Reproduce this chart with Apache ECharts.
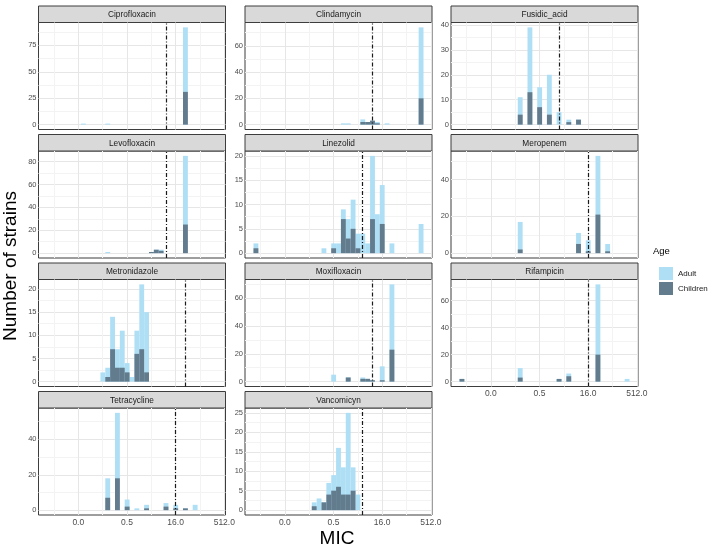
<!DOCTYPE html>
<html>
<head>
<meta charset="utf-8">
<script src="https://cdn.jsdelivr.net/npm/echarts@6/dist/echarts.min.js"></script>
<style>
html, body { margin: 0; padding: 0; background: #fff; }
#chart { width: 708px; height: 549px; }
</style>
</head>
<body>
<div id="chart"></div>
<script>
// facet order (row by row)
var drugs = ['Ciprofloxacin', 'Clindamycin', 'Fusidic_acid', 'Levofloxacin', 'Linezolid', 'Meropenem',
    'Metronidazole', 'Moxifloxacin', 'Rifampicin', 'Tetracycline', 'Vancomicyn'];
var breakpoints = [8, 8, 2, 8, 4, 16, 32, 8, 16, 16, 4];   // MIC of the dot-dash line
var yStep = [25, 20, 10, 20, 5, 20, 5, 20, 20, 20, 5];       // y tick spacing per facet

// histogram of log2(MIC), 35 bins from 0.002 to 256; bin index -> counts
var ciprofloxacinBins = [7, 12, 28];
var ciprofloxacinAdult = [1, 1, 92];
var ciprofloxacinChildren = [0, 0, 31];

var clindamycinBins = [18, 19, 22, 23, 24, 25, 27, 34];
var clindamycinAdult = [1, 1, 4, 2, 3, 2, 1, 74];
var clindamycinChildren = [0, 0, 2, 2, 3, 1, 0, 20];

var fusidicBins = [12, 14, 16, 18, 20, 22, 24];
var fusidicAdult = [11, 39, 15, 20, 5, 2, 2];
var fusidicChildren = [4, 13, 7, 4, 0, 1, 2];

var levofloxacinBins = [12, 21, 22, 23, 28];
var levofloxacinAdult = [1, 1, 3, 3, 85];
var levofloxacinChildren = [0, 1, 3, 2, 25];

var linezolidBins = [0, 14, 16, 17, 18, 19, 20, 21, 22, 23, 24, 25, 26, 28, 34];
var linezolidAdult = [2, 1, 2, 2, 9, 7, 11, 4, 4, 2, 20, 8, 14, 2, 6];
var linezolidChildren = [1, 0, 1, 0, 7, 3, 5, 1, 0, 0, 7, 0, 6, 0, 0];

var meropenemBins = [12, 24, 26, 28, 30];
var meropenemAdult = [17, 11, 7, 53, 5];
var meropenemChildren = [2, 5, 1, 21, 1];

var metronidazoleBins = [11, 12, 13, 14, 15, 16, 17, 18, 19, 20];
var metronidazoleAdult = [2, 3, 14, 7, 11, 4, 1, 11, 21, 15];
var metronidazoleChildren = [0, 1, 7, 3, 3, 2, 0, 6, 7, 2];

var moxifloxacinBins = [16, 19, 22, 23, 24, 26, 28];
var moxifloxacinAdult = [5, 3, 3, 2, 1, 11, 70];
var moxifloxacinChildren = [0, 3, 2, 2, 1, 1, 23];

var rifampicinBins = [0, 12, 20, 22, 28, 34];
var rifampicinAdult = [2, 10, 2, 6, 72, 2];
var rifampicinChildren = [2, 3, 2, 4, 20, 0];

var tetracyclineBins = [12, 14, 16, 18, 20, 24, 26, 28, 30];
var tetracyclineAdult = [18, 55, 6, 1, 3, 4, 3, 1, 3];
var tetracyclineChildren = [7, 18, 2, 0, 1, 2, 1, 1, 0];

var vancomicynBins = [12, 13, 14, 15, 16, 17, 18, 19, 20, 21];
var vancomicynAdult = [2, 3, 2, 7, 9, 16, 11, 25, 11, 4];
var vancomicynChildren = [1, 0, 2, 4, 5, 6, 4, 4, 5, 0];

var xBreaks = [-6, -1, 4, 9];          // log2 positions of 0.0, 0.5, 16.0, 512.0
var xMinorBreaks = [-8.5, -3.5, 1.5, 6.5];

var panels = [
    [ciprofloxacinBins, ciprofloxacinAdult, ciprofloxacinChildren],
    [clindamycinBins, clindamycinAdult, clindamycinChildren],
    [fusidicBins, fusidicAdult, fusidicChildren],
    [levofloxacinBins, levofloxacinAdult, levofloxacinChildren],
    [linezolidBins, linezolidAdult, linezolidChildren],
    [meropenemBins, meropenemAdult, meropenemChildren],
    [metronidazoleBins, metronidazoleAdult, metronidazoleChildren],
    [moxifloxacinBins, moxifloxacinAdult, moxifloxacinChildren],
    [rifampicinBins, rifampicinAdult, rifampicinChildren],
    [tetracyclineBins, tetracyclineAdult, tetracyclineChildren],
    [vancomicynBins, vancomicynAdult, vancomicynChildren]
];

// bin geometry
var LOG2_MIN = Math.log2(0.002), LOG2_MAX = 8, NBINS = 35;
var binW = (LOG2_MAX - LOG2_MIN) / (NBINS - 1);
var xPad = NBINS * binW * 0.05;
var xMin = LOG2_MIN - binW / 2 - xPad;
var xMax = LOG2_MAX + binW / 2 + xPad;

var FONT = 'Liberation Sans, Arial, sans-serif';
var ADULT = '#afdff5';
var CHILD = '#627b8d';

// layout
var colLeft = [38.5, 245, 451];
var rowTop = [6, 134.5, 263, 391.5];
var plotW = 187, stripH = 16.5, plotH = 107;

function barItem(color) {
    return function (params, api) {
        var x = api.value(0), y = api.value(1);
        if (!y) return null;
        var p0 = api.coord([x - binW / 2, y]);
        var p1 = api.coord([x + binW / 2, 0]);
        return {
            type: 'rect',
            shape: {x: p0[0], y: p0[1], width: p1[0] - p0[0], height: p1[1] - p0[1]},
            style: {fill: color}
        };
    };
}

var grids = [], xAxes = [], yAxes = [], series = [], graphics = [];

panels.forEach(function (p, i) {
    var col = i % 3, row = Math.floor(i / 3);
    var left = colLeft[col], top = rowTop[row];
    var bottomRow = (i >= 8);
    var M = Math.max.apply(null, p[1].concat(p[2]));
    var yMin = -0.05 * M, yMax = 1.05 * M;
    var step = yStep[i];

    var ticks = [], gridLines = [];
    for (var v = 0; v <= yMax; v += step) ticks.push(v);
    for (var g = step / 2; g <= yMax; g += step) {
        gridLines.push({yAxis: g, lineStyle: {color: '#f3f3f3', width: 1, type: 'solid'}});
    }
    ticks.forEach(function (t) {
        gridLines.push({yAxis: t, lineStyle: {color: '#e6e6e6', width: 1, type: 'solid'}});
    });
    xMinorBreaks.forEach(function (t) {
        gridLines.push({xAxis: t, lineStyle: {color: '#f3f3f3', width: 1, type: 'solid'}});
    });
    xBreaks.forEach(function (t) {
        if (t < xMax) gridLines.push({xAxis: t, lineStyle: {color: '#e6e6e6', width: 1, type: 'solid'}});
    });

    grids.push({
        left: left, top: top + stripH, width: plotW, height: plotH,
        show: true, borderColor: '#3d3d3d', borderWidth: 1, backgroundColor: 'transparent'
    });

    xAxes.push({
        gridIndex: i, type: 'value', min: xMin, max: xMax,
        axisLine: {show: false},
        splitLine: {show: false},
        axisTick: {show: bottomRow, length: 2, customValues: xBreaks, lineStyle: {color: '#333'}},
        axisLabel: {
            show: bottomRow, customValues: xBreaks, margin: 3,
            fontSize: 8.5, color: '#4d4d4d', fontFamily: FONT,
            formatter: function (v) { return Math.pow(2, v).toFixed(1); }
        }
    });

    yAxes.push({
        gridIndex: i, type: 'value', min: yMin, max: yMax,
        axisLine: {show: false},
        splitLine: {show: false},
        axisTick: {show: true, length: 2, customValues: ticks, lineStyle: {color: '#333'}},
        axisLabel: {customValues: ticks, margin: 2, fontSize: 7.5, color: '#4d4d4d', fontFamily: FONT}
    });

    var adultData = p[0].map(function (k, j) { return [LOG2_MIN + k * binW, p[1][j]]; });
    var childData = p[0].map(function (k, j) { return [LOG2_MIN + k * binW, p[2][j]]; });

    // panel grid lines, kept under the bars
    series.push({
        type: 'line', xAxisIndex: i, yAxisIndex: i, data: [], silent: true, z: 1,
        markLine: {
            silent: true, symbol: ['none', 'none'], z: 1, animation: false,
            label: {show: false}, emphasis: {disabled: true},
            data: gridLines
        }
    });
    series.push({
        name: 'Adult', type: 'custom', xAxisIndex: i, yAxisIndex: i, z: 2,
        itemStyle: {color: ADULT}, renderItem: barItem(ADULT), data: adultData
    });
    series.push({
        name: 'Children', type: 'custom', xAxisIndex: i, yAxisIndex: i, z: 3,
        itemStyle: {color: CHILD}, renderItem: barItem(CHILD), data: childData
    });
    // breakpoint line
    series.push({
        type: 'line', xAxisIndex: i, yAxisIndex: i, data: [], silent: true, z: 5,
        markLine: {
            silent: true, symbol: ['none', 'none'], z: 5, animation: false,
            label: {show: false}, emphasis: {disabled: true},
            lineStyle: {color: '#1a1a1a', width: 1.2, type: [4, 2, 1, 2]},
            data: [{xAxis: Math.log2(breakpoints[i])}]
        }
    });

    // facet strip
    graphics.push({
        type: 'rect', silent: true,
        shape: {x: left, y: top, width: plotW, height: stripH},
        style: {fill: '#d9d9d9', stroke: '#3d3d3d', lineWidth: 1}
    });
    graphics.push({
        type: 'text', silent: true,
        style: {
            text: drugs[i], x: left + plotW / 2, y: top + stripH / 2 + 0.5,
            align: 'center', verticalAlign: 'middle', textAlign: 'center', textVerticalAlign: 'middle',
            font: '8.3px ' + FONT, fill: '#1a1a1a'
        }
    });
});

graphics.push({
    type: 'text', silent: true, x: 11, y: 266, rotation: Math.PI / 2,
    style: {
        text: 'Number of strains', x: 0, y: 0,
        align: 'center', verticalAlign: 'middle', textAlign: 'center', textVerticalAlign: 'middle',
        font: '19px ' + FONT, fill: '#000'
    }
});
graphics.push({
    type: 'text', silent: true,
    style: {
        text: 'MIC', x: 337, y: 539,
        align: 'center', verticalAlign: 'middle', textAlign: 'center', textVerticalAlign: 'middle',
        font: '19px ' + FONT, fill: '#000'
    }
});
graphics.push({
    type: 'text', silent: true,
    style: {
        text: 'Age', x: 653, y: 251,
        align: 'left', verticalAlign: 'middle', textAlign: 'left', textVerticalAlign: 'middle',
        font: '9.5px ' + FONT, fill: '#000'
    }
});

var myChart = echarts.init(document.getElementById('chart'));
var option = {
    animation: false,
    backgroundColor: '#fff',
    grid: grids,
    xAxis: xAxes,
    yAxis: yAxes,
    legend: {
        data: ['Adult', 'Children'],
        orient: 'vertical', left: 654, top: 262,
        icon: 'rect', itemWidth: 14, itemHeight: 13, itemGap: 2,
        selectedMode: false,
        textStyle: {fontSize: 8, color: '#1a1a1a', fontFamily: FONT}
    },
    graphic: graphics,
    series: series
};
myChart.setOption(option);
</script>
</body>
</html>
